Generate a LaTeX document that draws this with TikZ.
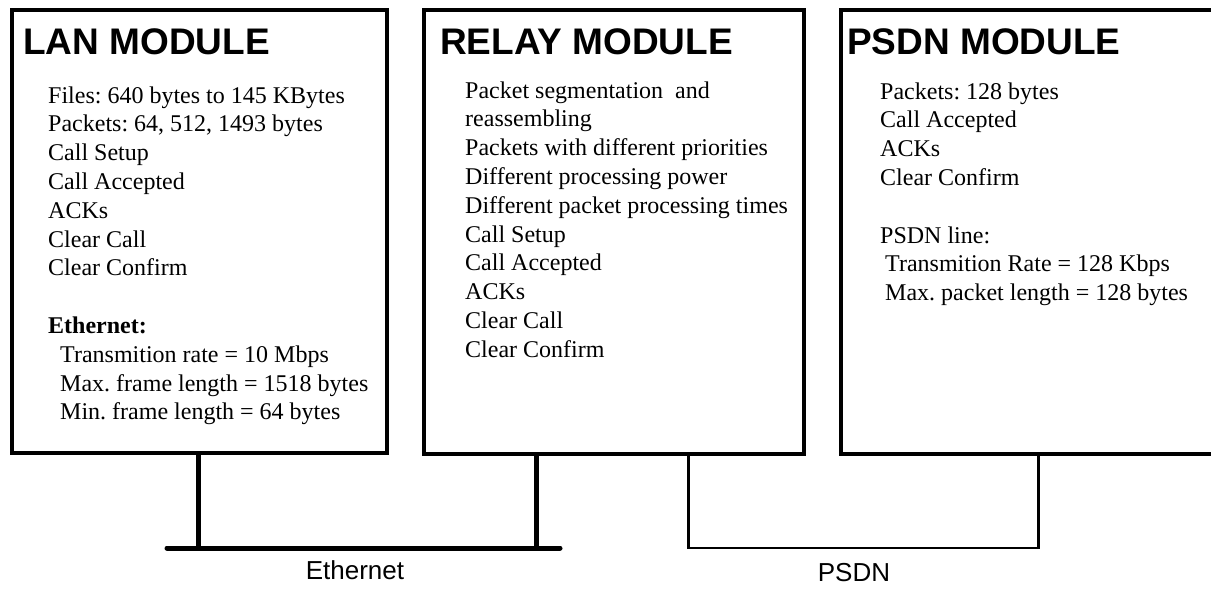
\documentclass[tikz,border=0pt]{standalone}
\usepackage{fontspec}
\setmainfont{Liberation Serif}
\setsansfont{Liberation Sans}
\frenchspacing
\begin{document}
\begin{tikzpicture}[x=1pt,y=-1pt,
  module/.style={draw, line width=4.5pt, rectangle, inner sep=0pt, outer sep=0pt, anchor=north west},
  title/.style={font=\sffamily\bfseries\fontsize{37}{40}\selectfont, anchor=base west, inner sep=0pt},
  body/.style={font=\fontsize{24}{28.8}\selectfont, anchor=base west, inner sep=0pt},
  ethline/.style={line width=5pt},
  psdnline/.style={line width=2.5pt},
  netlabel/.style={font=\sffamily\fontsize{26}{30}\selectfont, anchor=base, inner sep=0pt}]
\clip (0,0) rectangle (1211,592);
% module boxes
\node[module, minimum width=375pt, minimum height=443pt] (lan) at (12,10) {};
\node[module, minimum width=380pt, minimum height=444pt] (relay) at (424,10) {};
\node[module, minimum width=389pt, minimum height=444pt] (psdn) at (841,10) {};
% titles
\node[title] (lantitle) at (23,54) {LAN MODULE};
\node[title] (relaytitle) at (440,54) {RELAY MODULE};
\node[title] (psdntitle) at (847,54) {PSDN MODULE};
% LAN body
\foreach \i/\t in {0/{Files: 640 bytes to 145 KBytes},
                   1/{Packets: 64, 512, 1493 bytes},
                   2/{Call Setup},
                   3/{Call Accepted},
                   4/{ACKs},
                   5/{Clear Call},
                   6/{Clear Confirm},
                   8/{\textbf{Ethernet:}},
                   9/{\hspace{12pt}Transmition rate = 10 Mbps},
                   10/{\hspace{12pt}Max. frame length = 1518 bytes},
                   11/{\hspace{12pt}Min. frame length = 64 bytes}}
  \node[body] (lan-\i) at (48,103+\i*28.8) {\t};
% RELAY body
\foreach \i/\t in {0/{Packet segmentation\ \ and},
                   1/{reassembling},
                   2/{Packets with different priorities},
                   3/{Different processing power},
                   4/{Different packet processing times},
                   5/{Call Setup},
                   6/{Call Accepted},
                   7/{ACKs},
                   8/{Clear Call},
                   9/{Clear Confirm}}
  \node[body] (relay-\i) at (465,98+\i*28.8) {\t};
% PSDN body
\foreach \i/\t in {0/{Packets: 128 bytes},
                   1/{Call Accepted},
                   2/{ACKs},
                   3/{Clear Confirm},
                   5/{PSDN line:},
                   6/{\hspace{5pt}Transmition Rate = 128 Kbps},
                   7/{\hspace{5pt}Max. packet length = 128 bytes}}
  \node[body] (psdn-\i) at (880,99+\i*28.8) {\t};
% Ethernet bus
\coordinate (ethL) at (167,548);
\coordinate (ethR) at (560,548);
\coordinate (tapA) at (198,548);
\coordinate (tapB) at (536,548);
\draw[ethline, line cap=round] (ethL) -- (ethR);
\draw[ethline] (lan.south -| tapA) -- (tapA);
\draw[ethline] (relay.south -| tapB) -- (tapB);
% PSDN link
\coordinate (pA) at (688.5,548);
\coordinate (pB) at (1038.5,548);
\draw[psdnline] (relay.south -| pA) -- (pA) -- (pB) -- (psdn.south -| pB);
% labels
\node[netlabel] (ethlabel) at (355,579) {Ethernet};
\node[netlabel] (psdnlabel) at (854,581) {PSDN};
\end{tikzpicture}
\end{document}
